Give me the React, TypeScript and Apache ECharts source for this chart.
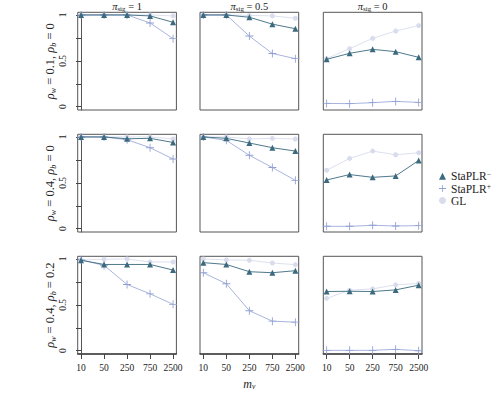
import React, { useEffect, useRef } from 'react';
import * as echarts from 'echarts';

const categories = ['10', '50', '250', '750', '2500'];
const columnPi = ['1', '0.5', '0'];
const rowRhoW = ['0.1', '0.4', '0.4'];
const rowRhoB = ['0', '0', '0.2'];
const yTicks = [0, 0.25, 0.5, 0.75, 1];
const yLabels = [0, 0.5, 1];

// each array: [column pi=1, pi=0.5, pi=0], 5 values per m_v
const staMinusRow1 = [[1, 1, 1, 0.99, 0.92], [1, 1, 0.975, 0.9, 0.85], [0.516, 0.582, 0.625, 0.6, 0.538]];
const staMinusRow2 = [[1, 1, 0.98, 0.985, 0.94], [1, 0.985, 0.934, 0.883, 0.846], [0.531, 0.59, 0.56, 0.575, 0.744]];
const staMinusRow3 = [[0.986, 0.94, 0.94, 0.94, 0.879], [0.96, 0.94, 0.861, 0.85, 0.872], [0.645, 0.648, 0.645, 0.663, 0.714]];

const staPlusRow1 = [[1, 1, 1, 0.913, 0.742], [1, 1, 0.77, 0.58, 0.524], [0.036, 0.033, 0.044, 0.058, 0.047]];
const staPlusRow2 = [[1, 1, 0.97, 0.883, 0.76], [1, 0.963, 0.8, 0.667, 0.527], [0.026, 0.026, 0.037, 0.03, 0.033]];
const staPlusRow3 = [[0.99, 0.93, 0.722, 0.62, 0.505], [0.85, 0.73, 0.436, 0.322, 0.311], [0.004, 0.004, 0.004, 0.015, 0.0]];

const glRow1 = [[1, 1, 1, 1, 0.99], [1, 1, 0.995, 0.99, 0.964], [0.524, 0.633, 0.745, 0.825, 0.884]];
const glRow2 = [[1, 1, 1, 1, 0.978], [1, 1, 0.978, 0.985, 0.978], [0.637, 0.766, 0.846, 0.806, 0.828]];
const glRow3 = [[0.99, 0.997, 1, 0.967, 0.967], [1, 0.99, 0.986, 0.956, 0.938], [0.571, 0.659, 0.674, 0.718, 0.733]];

const staMinus = [staMinusRow1, staMinusRow2, staMinusRow3];
const staPlus = [staPlusRow1, staPlusRow2, staPlusRow3];
const gl = [glRow1, glRow2, glRow3];

const NAME_MINUS = 'StaPLR-';
const NAME_PLUS = 'StaPLR+';
const NAME_GL = 'GL';

const C_MINUS = '#3b6a7f';
const C_PLUS = '#92a1d4';
const C_GL = '#d9dcec';

const PLUS_PATH = 'path://M4.45,0H5.55V4.45H10V5.55H5.55V10H4.45V5.55H0V4.45H4.45Z';

const FONT = 'Liberation Serif';

const colLeft = [77.7, 200, 323.3];
const rowTop = [12.3, 134.3, 256.3];
const panelW = 98.7;
const panelH = 97.7;

export default function App() {
  const ref = useRef<HTMLDivElement>(null);

  useEffect(() => {
    if (!ref.current) return;
    const chart = echarts.init(ref.current, undefined, { renderer: 'svg' });

    const grids: any[] = [];
    const xAxes: any[] = [];
    const yAxes: any[] = [];
    const series: any[] = [];
    const graphics: any[] = [];

    let idx = 0;
    for (let r = 0; r < 3; r++) {
      for (let c = 0; c < 3; c++) {
        grids.push({
          left: colLeft[c],
          top: rowTop[r],
          width: panelW,
          height: panelH,
          show: true,
          borderColor: '#555',
          borderWidth: 1,
          backgroundColor: 'transparent',
        });
        const bottom = r === 2;
        const leftCol = c === 0;
        xAxes.push({
          type: 'value',
          gridIndex: idx,
          min: -0.145,
          max: 4.145,
          splitLine: { show: false },
          axisLine: { show: bottom, onZero: false, lineStyle: { color: '#444', width: 1.5 } },
          axisTick: {
            show: bottom,
            customValues: [0, 1, 2, 3, 4],
            length: 5,
            lineStyle: { color: '#444', width: 1 },
          },
          axisLabel: {
            show: bottom,
            customValues: [0, 1, 2, 3, 4],
            formatter: (v: number) => categories[Math.round(v)],
            fontFamily: FONT,
            fontSize: 9.5,
            color: '#222',
            margin: 9,
          },
        });
        yAxes.push({
          type: 'value',
          gridIndex: idx,
          min: -0.036,
          max: 1.029,
          splitLine: { show: false },
          axisLine: { show: leftCol, lineStyle: { color: '#555', width: 1 } },
          axisTick: {
            show: leftCol,
            customValues: yTicks,
            length: 5,
            lineStyle: { color: '#444', width: 1 },
          },
          axisLabel: {
            show: leftCol,
            customValues: yLabels,
            rotate: 90,
            fontFamily: FONT,
            fontSize: 9.5,
            color: '#222',
            margin: 10,
          },
        });

        const mk = (arr: number[]) => arr.map((v, i) => [i, v]);
        series.push({
          name: NAME_GL,
          type: 'line',
          xAxisIndex: idx,
          yAxisIndex: idx,
          data: mk(gl[r][c]),
          symbol: 'circle',
          symbolSize: 5,
          itemStyle: { color: C_GL },
          lineStyle: { color: C_GL, width: 0.9 },
          z: 2,
        });
        series.push({
          name: NAME_PLUS,
          type: 'line',
          xAxisIndex: idx,
          yAxisIndex: idx,
          data: mk(staPlus[r][c]),
          symbol: PLUS_PATH,
          symbolSize: 8,
          itemStyle: { color: C_PLUS },
          lineStyle: { color: C_PLUS, width: 0.8 },
          z: 3,
        });
        series.push({
          name: NAME_MINUS,
          type: 'line',
          xAxisIndex: idx,
          yAxisIndex: idx,
          data: mk(staMinus[r][c]),
          symbol: 'triangle',
          symbolSize: 6,
          itemStyle: { color: C_MINUS },
          lineStyle: { color: C_MINUS, width: 0.9 },
          z: 4,
        });
        idx++;
      }
    }

    const baseRich = {
      n: { fontFamily: FONT, fontSize: 10.5, lineHeight: 13, fill: '#222' },
      i: { fontFamily: FONT, fontSize: 10.5, lineHeight: 13, fontStyle: 'italic', fill: '#222' },
      sub: { fontFamily: FONT, fontSize: 7, lineHeight: 7, verticalAlign: 'bottom', fill: '#222' },
    };

    for (let c = 0; c < 3; c++) {
      graphics.push({
        type: 'text',
        x: colLeft[c] + panelW / 2,
        y: 6,
        style: {
          text: `{i|π}{sub|sig}{n| = ${columnPi[c]}}`,
          rich: baseRich,
          align: 'center',
          verticalAlign: 'middle',
        },
      });
    }

    const rowRich = {
      n: { fontFamily: FONT, fontSize: 12.5, lineHeight: 15, fill: '#222' },
      i: { fontFamily: FONT, fontSize: 12.5, lineHeight: 15, fontStyle: 'italic', fill: '#222' },
      sub: { fontFamily: FONT, fontSize: 8, lineHeight: 8, fontStyle: 'italic', verticalAlign: 'bottom', fill: '#222' },
    };
    for (let r = 0; r < 3; r++) {
      graphics.push({
        type: 'text',
        x: 50,
        y: rowTop[r] + panelH / 2,
        rotation: Math.PI / 2,
        style: {
          text: `{i|ρ}{sub|w}{n| = ${rowRhoW[r]}, }{i|ρ}{sub|b}{n| = ${rowRhoB[r]}}`,
          rich: rowRich,
          align: 'center',
          verticalAlign: 'middle',
        },
      });
    }

    graphics.push({
      type: 'text',
      x: colLeft[1] + panelW / 2,
      y: 384,
      style: {
        text: '{i|m}{sub|v}',
        rich: {
          i: { fontFamily: FONT, fontSize: 12, lineHeight: 13, fontStyle: 'italic', fill: '#222' },
          sub: { fontFamily: FONT, fontSize: 7.5, lineHeight: 7, fontStyle: 'italic', verticalAlign: 'bottom', fill: '#222' },
        },
        align: 'center',
        verticalAlign: 'middle',
      },
    });

    chart.setOption({
      animation: false,
      grid: grids,
      xAxis: xAxes,
      yAxis: yAxes,
      series,
      graphic: graphics,
      legend: {
        orient: 'vertical',
        left: 434,
        top: 165,
        itemWidth: 7,
        itemHeight: 7,
        itemGap: 0,
        data: [
          { name: NAME_MINUS, icon: 'triangle' },
          { name: NAME_PLUS, icon: PLUS_PATH },
          { name: NAME_GL, icon: 'circle' },
        ],
        formatter: (name: string) => {
          if (name === NAME_MINUS) return '{b|StaPLR}{sup|−}';
          if (name === NAME_PLUS) return '{b|StaPLR}{sup|+}';
          return '{b|GL}';
        },
        textStyle: {
          fontFamily: FONT,
          color: '#222',
          rich: {
            b: { fontFamily: FONT, fontSize: 11.5, lineHeight: 12.5, color: '#222' },
            sup: { fontFamily: FONT, fontSize: 7.5, lineHeight: 7, verticalAlign: 'top', color: '#222' },
          },
        },
      },
    });

    return () => chart.dispose();
  }, []);

  return (
    <div
      ref={ref}
      style={{ position: 'absolute', left: 0, top: 0, width: 500, height: 400, background: '#fff' }}
    />
  );
}
